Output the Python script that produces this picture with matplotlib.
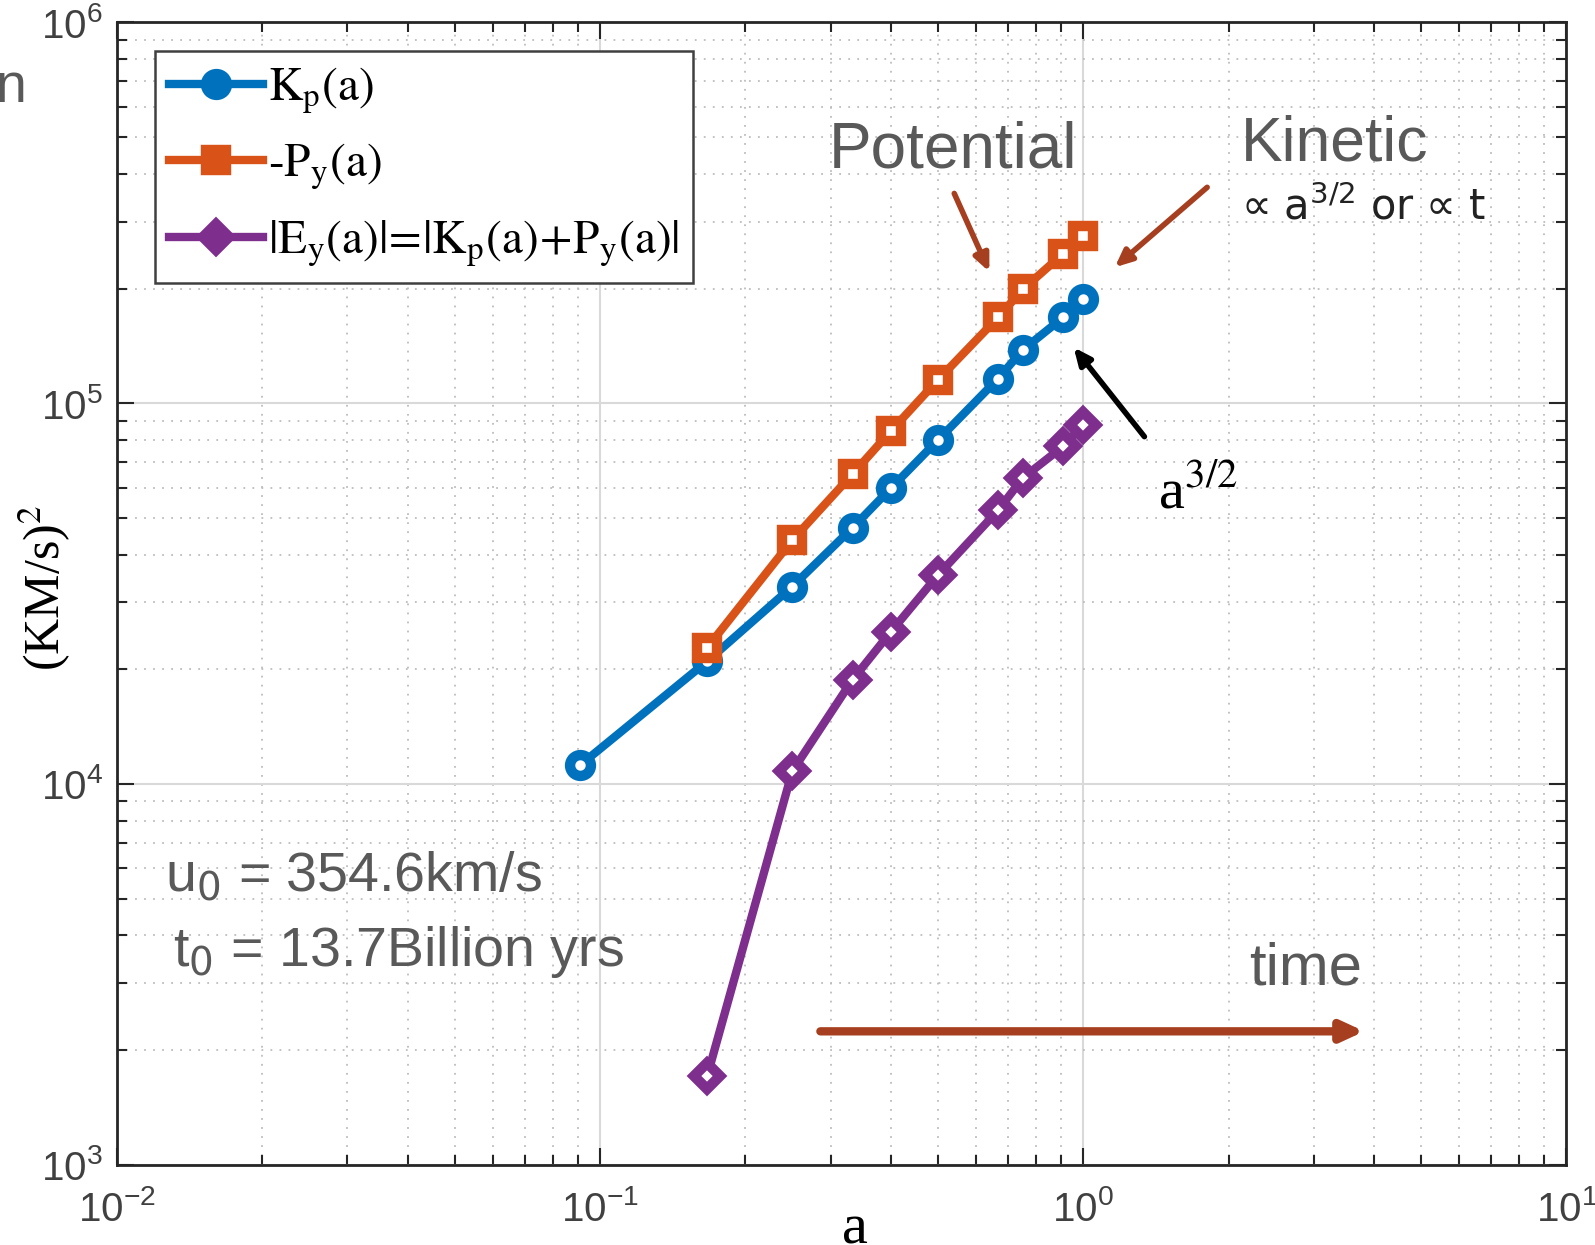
import numpy as np
import matplotlib
matplotlib.use('Agg')
import matplotlib.pyplot as plt

# scale factor a = 1/(1+z)
a_kin = [1 / 11, 1 / 6, 1 / 4, 1 / 3, 0.4, 0.5, 2 / 3, 0.75, 1 / 1.1, 1.0]
kp = [1.12e4, 2.10e4, 3.30e4, 4.71e4, 5.98e4, 7.99e4, 1.16e5, 1.38e5, 1.68e5, 1.88e5]

a_pot = [1 / 6, 1 / 4, 1 / 3, 0.4, 0.5, 2 / 3, 0.75, 1 / 1.1, 1.0]
neg_py = [2.28e4, 4.37e4, 6.52e4, 8.45e4, 1.15e5, 1.68e5, 1.99e5, 2.47e5, 2.74e5]
abs_ey = [1.71e3, 1.08e4, 1.88e4, 2.51e4, 3.53e4, 5.23e4, 6.36e4, 7.70e4, 8.77e4]

labels = [r'$\mathrm{K_p(a)}$', r'$\mathrm{\text{-}P_y(a)}$',
          r'$\mathrm{|E_y(a)|\!=\!|K_p(a)\!+\!P_y(a)|}$']

BLUE = '#0072BD'
ORANGE = '#D95319'
PURPLE = '#7E2F8E'
BROWN = '#A63F1F'
GRAY = '#595959'

W, H = 1595, 1245
fig = plt.figure(figsize=(W / 100, H / 100), dpi=100)
ax = fig.add_axes([0.0733, 0.0645, 0.9087, 0.9175])

line_kw = dict(linewidth=6, markersize=15, markeredgewidth=7.5,
               markerfacecolor='white')
ax.plot(a_kin, kp, '-o', color=BLUE, markeredgecolor=BLUE, label=labels[0],
        **line_kw)
ax.plot(a_pot, neg_py, '-s', color=ORANGE, markeredgecolor=ORANGE,
        label=labels[1], **line_kw)
ax.plot(a_pot, abs_ey, '-D', color=PURPLE, markeredgecolor=PURPLE,
        label=labels[2], **{**line_kw, 'markersize': 13})

ax.set_xscale('log')
ax.set_yscale('log')
ax.set_xlim(1e-2, 1e1)
ax.set_ylim(1e3, 1e6)

ax.grid(True, which='major', color='#d9d9d9', linestyle='-', linewidth=1.5)
ax.grid(True, which='minor', color='#bdbdbd', linestyle=(0, (1, 4)),
        linewidth=1.3)
ax.set_axisbelow(True)
for sp in ax.spines.values():
  sp.set_color('#262626')
  sp.set_linewidth(2)
ax.tick_params(which='both', direction='in', top=True, right=True,
               colors='#262626', labelcolor='#404040', width=1.5)
ax.tick_params(which='major', length=12, labelsize=29, pad=10)
ax.tick_params(axis='x', which='major', pad=18)
ax.tick_params(which='minor', length=7)
for lab in ax.get_xticklabels() + ax.get_yticklabels():
  lab.set_family(['Liberation Sans', 'DejaVu Sans'])

ax.set_xlabel('a', family='Liberation Serif', fontsize=42)
ax.xaxis.set_label_coords(0.509, -0.034)
ax.set_ylabel(r'(KM/s)$^2$', family='Liberation Serif', fontsize=36,
              math_fontfamily='stix')
ax.yaxis.set_label_coords(-0.03, 0.505)

leg = ax.legend(loc='upper left', bbox_to_anchor=(0.026, 0.975),
                borderaxespad=0, fancybox=False, framealpha=1,
                edgecolor='#404040', handlelength=2.0,
                handletextpad=0.1, labelspacing=0.55, borderpad=0.3,
                prop={'family': 'Liberation Serif', 'size': 34})
leg.get_frame().set_linewidth(1.8)
for t in leg.get_texts():
  t.set_math_fontfamily('stix')
for h in leg.legend_handles:
  h.set_markerfacecolor(h.get_color())

# annotations
ax.annotate('', xy=(0.643, 2.18e5), xytext=(0.538, 3.61e5),
            arrowprops=dict(arrowstyle='-|>,head_length=1.0,head_width=0.45',
                            color=BROWN, lw=4))
ax.annotate('', xy=(1.151, 2.25e5), xytext=(1.824, 3.73e5),
            arrowprops=dict(arrowstyle='-|>,head_length=1.0,head_width=0.45',
                            color=BROWN, lw=4))
ax.annotate('', xy=(0.948, 1.42e5), xytext=(1.35, 8.06e4),
            arrowprops=dict(arrowstyle='-|>,head_length=1.0,head_width=0.45',
                            color='black', lw=4))
ax.annotate('', xy=(3.87, 2.24e3), xytext=(0.282, 2.24e3),
            arrowprops=dict(arrowstyle='-|>,head_length=1.3,head_width=0.6',
                            color=BROWN, lw=6))

sans = ['Liberation Sans', 'DejaVu Sans']


def ftext(x, y, s, **kw):
  fig.text(x / 1568, 1 - y / 1224, s, **kw)


ftext(815, 165, 'Potential', family=sans, fontsize=46, color=GRAY)
ftext(1220, 158, 'Kinetic', family=sans, fontsize=45, color=GRAY)
ftext(1220, 216, '\u221d a$^{3/2}$ or \u221d t', family='DejaVu Sans',
      fontsize=30, color='#222222', math_fontfamily='dejavusans')
ftext(1138, 500, r'a$^{3/2}$', family='Liberation Serif', fontsize=42,
      color='black', math_fontfamily='stix')
ftext(162, 875, r'u$_0$ = 354.6km/s', family=sans, fontsize=40, color=GRAY,
      math_fontfamily='dejavusans')
ftext(170, 950, r't$_0$ = 13.7Billion yrs', family=sans, fontsize=40,
      color=GRAY, math_fontfamily='dejavusans')
ftext(1228, 968, 'time', family=sans, fontsize=43, color=GRAY)
ftext(-5, 100, 'n', family=sans, fontsize=40, color=GRAY)

fig.savefig('out.png', dpi=100)
